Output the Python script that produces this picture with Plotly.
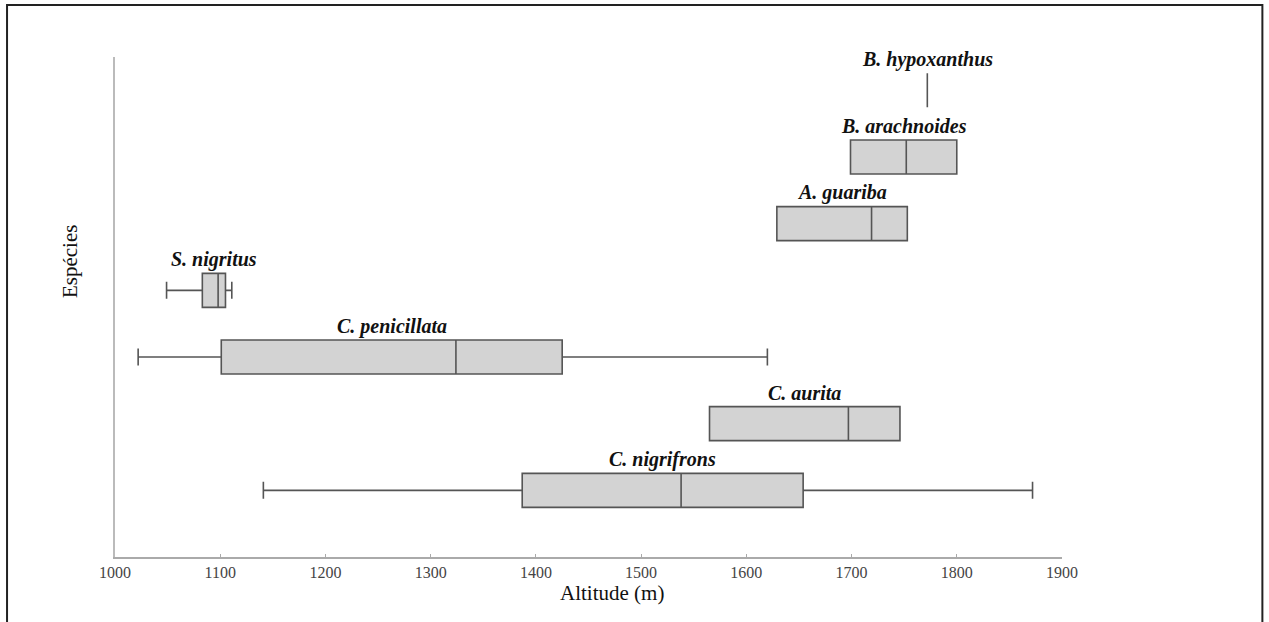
import plotly.graph_objects as go

species = ["C. nigrifrons", "C. aurita", "C. penicillata", "S. nigritus",
           "A. guariba", "B. arachnoides", "B. hypoxanthus"]
lower = [1141, 1565, 1022, 1049, 1629, 1699, 1772]
q1 = [1387, 1565, 1101, 1083, 1629, 1699, 1772]
median = [1538, 1697, 1324, 1098, 1719, 1752, 1772]
q3 = [1654, 1746, 1425, 1105, 1753, 1800, 1772]
upper = [1872, 1746, 1620, 1111, 1753, 1800, 1772]
xticks = [1000, 1100, 1200, 1300, 1400, 1500, 1600, 1700, 1800, 1900]

SERIF = "Liberation Serif, Times New Roman, serif"

fig = go.Figure()
fig.add_trace(go.Box(
    y=species, q1=q1, median=median, q3=q3,
    lowerfence=lower, upperfence=upper,
    orientation="h", boxpoints=False,
    fillcolor="#d3d3d3",
    line=dict(color="#555555", width=1.6),
    whiskerwidth=0.5, showlegend=False, hoverinfo="skip",
))

annotations = []
for s, a, b in zip(species, q1, q3):
    annotations.append(dict(
        x=(a + b) / 2, y=s, xref="x", yref="y", yshift=31,
        text=f"<b><i>{s}</i></b>", showarrow=False,
        font=dict(family=SERIF, size=20, color="#111111"),
        xanchor="center", yanchor="middle"))

annotations.append(dict(x=0.525, y=-0.072, xref="paper", yref="paper",
                        text="Altitude (m)", showarrow=False,
                        font=dict(family=SERIF, size=21, color="#111111"),
                        xanchor="center", yanchor="middle"))
annotations.append(dict(x=-0.0475, y=0.59, xref="paper", yref="paper",
                        text="Espécies", showarrow=False, textangle=-90,
                        font=dict(family=SERIF, size=21, color="#111111"),
                        xanchor="center", yanchor="middle"))

fig.update_layout(
    width=1269, height=622,
    margin=dict(l=115, r=207, t=57, b=65),
    paper_bgcolor="white", plot_bgcolor="white",
    boxgap=0.49, boxgroupgap=0,
    annotations=annotations,
    shapes=[dict(type="path", xref="paper", yref="paper",
                 path="M -0.114,-0.2 L -0.114,1.104 L 1.2116,1.104 L 1.2116,-0.2",
                 line=dict(color="#222222", width=2))],
    xaxis=dict(range=[1000, 1900], tickvals=xticks,
               showline=True, linecolor="#aaaaaa", linewidth=2,
               ticks="inside", ticklen=3, tickcolor="#aaaaaa",
               showgrid=False, zeroline=False,
               tickfont=dict(family=SERIF, size=16, color="#444444")),
    yaxis=dict(type="category", categoryorder="array", categoryarray=species,
               range=[-1.0, 6.5], showline=True, linecolor="#bbbbbb",
               linewidth=2, showticklabels=False, ticks="",
               showgrid=False, zeroline=False),
)

fig.write_html("out.html", config={"displayModeBar": False},
               post_script="document.body.style.margin='0';document.body.style.overflow='hidden';")
